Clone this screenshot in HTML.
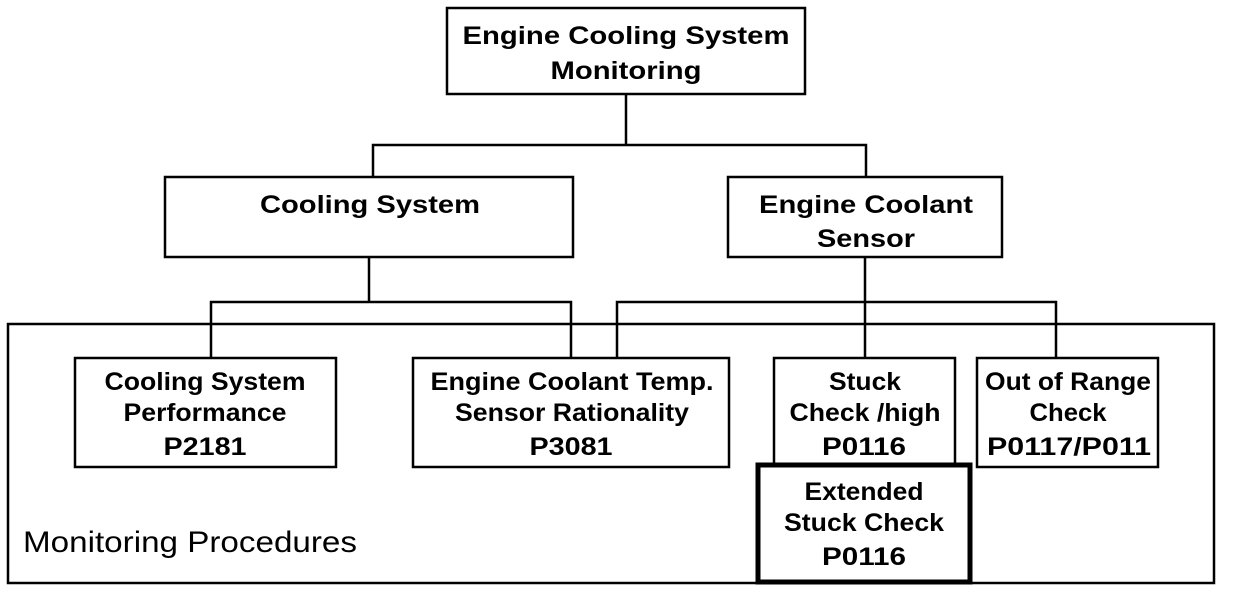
<!DOCTYPE html>
<html><head><style>
html,body{margin:0;padding:0;background:#fff;}
svg{display:block;}
text{font-family:"Liberation Sans",Arial,sans-serif;font-weight:bold;font-size:25px;fill:#000;text-anchor:middle;}
</style></head><body>
<svg width="1248" height="592" viewBox="0 0 1248 592" xmlns="http://www.w3.org/2000/svg">
<g fill="none" stroke="#000" stroke-width="2.5">
<rect x="8" y="324" width="1206" height="259"/>
<rect x="447" y="8" width="358" height="86"/>
<rect x="165" y="177" width="408" height="80"/>
<rect x="728" y="177" width="274" height="80"/>
<rect x="75" y="358" width="261" height="109"/>
<rect x="413" y="358" width="316" height="109"/>
<rect x="774" y="358" width="181" height="109"/>
<rect x="977" y="358" width="181" height="109"/>
<polyline points="626,94 626,145"/>
<polyline points="373,177 373,145 866,145 866,177"/>
<polyline points="369,257 369,302"/>
<polyline points="211,358 211,302 571,302 571,358"/>
<polyline points="865,257 865,358"/>
<polyline points="617,358 617,302 1056,302 1056,358"/>
</g>
<rect x="758" y="465" width="212" height="117" fill="#fff" stroke="#000" stroke-width="5"/>
<g lengthAdjust="spacingAndGlyphs">
<text x="626" y="44" textLength="327" lengthAdjust="spacingAndGlyphs">Engine Cooling System</text>
<text x="626" y="79" textLength="151" lengthAdjust="spacingAndGlyphs">Monitoring</text>
<text x="370" y="213" textLength="220" lengthAdjust="spacingAndGlyphs">Cooling System</text>
<text x="866" y="213" textLength="214" lengthAdjust="spacingAndGlyphs">Engine Coolant</text>
<text x="866" y="247" textLength="98" lengthAdjust="spacingAndGlyphs">Sensor</text>
<text x="205" y="390" textLength="201" lengthAdjust="spacingAndGlyphs">Cooling System</text>
<text x="205" y="421" textLength="163" lengthAdjust="spacingAndGlyphs">Performance</text>
<text x="205" y="455" textLength="83" lengthAdjust="spacingAndGlyphs">P2181</text>
<text x="572" y="390" textLength="283" lengthAdjust="spacingAndGlyphs">Engine Coolant Temp.</text>
<text x="572" y="421" textLength="234" lengthAdjust="spacingAndGlyphs">Sensor Rationality</text>
<text x="571" y="455" textLength="83" lengthAdjust="spacingAndGlyphs">P3081</text>
<text x="865" y="390" textLength="72" lengthAdjust="spacingAndGlyphs">Stuck</text>
<text x="865" y="421" textLength="151" lengthAdjust="spacingAndGlyphs">Check /high</text>
<text x="864" y="455" textLength="84" lengthAdjust="spacingAndGlyphs">P0116</text>
<text x="1068" y="390" textLength="166" lengthAdjust="spacingAndGlyphs">Out of Range</text>
<text x="1068" y="421" textLength="77" lengthAdjust="spacingAndGlyphs">Check</text>
<text x="1069" y="455" textLength="164" lengthAdjust="spacingAndGlyphs">P0117/P011</text>
<text x="864" y="500" textLength="119" lengthAdjust="spacingAndGlyphs">Extended</text>
<text x="864" y="531" textLength="160" lengthAdjust="spacingAndGlyphs">Stuck Check</text>
<text x="864" y="565" textLength="84" lengthAdjust="spacingAndGlyphs">P0116</text>
<text x="23" y="552" textLength="334" lengthAdjust="spacingAndGlyphs" style="font-weight:normal;font-size:30px;text-anchor:start">Monitoring Procedures</text>
</g>
</svg>
</body></html>
